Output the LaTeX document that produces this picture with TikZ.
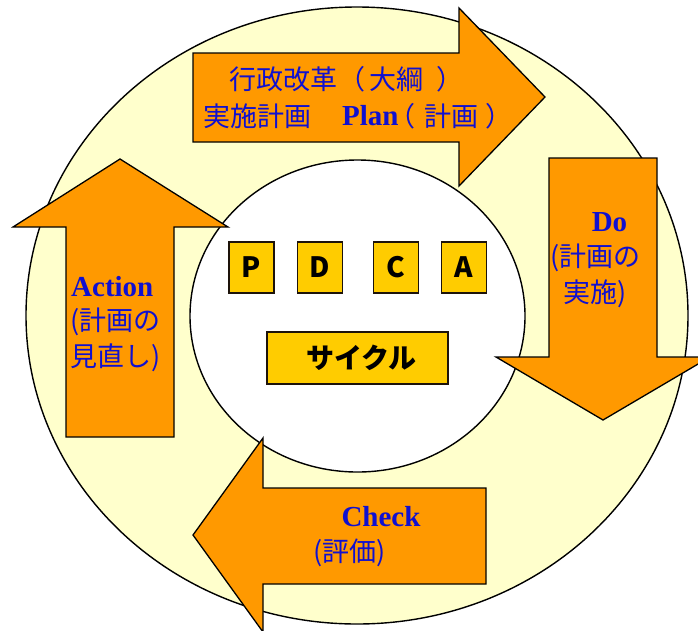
\documentclass[tikz,border=0pt]{standalone}
\usepackage{fontspec}
\newfontfamily\cjk{Noto Sans CJK JP}
\newfontfamily\serifb{Liberation Serif}
\definecolor{ringyellow}{HTML}{FFFFCC}
\definecolor{arroworange}{HTML}{FF9900}
\definecolor{boxyellow}{HTML}{FFCC00}
\definecolor{txtblue}{RGB}{16,16,208}
\tikzset{
  ring/.style={draw=black, line width=1.4pt},
  bigarrow/.style={draw=black, fill=arroworange, line width=1.3pt, line join=miter},
  lbl/.style={inner sep=0pt, text=txtblue, font=\cjk\fontsize{27}{30}\selectfont},
  latinlbl/.style={inner sep=0pt, text=txtblue, font=\serifb\bfseries\fontsize{29}{32}\selectfont},
  letterbox/.style={draw=black!85!brown, fill=boxyellow, line width=1.5pt, minimum width=45pt, minimum height=51pt, inner sep=0pt, font=\cjk\bfseries\fontsize{28}{30}\selectfont},
}
\begin{document}
\begin{tikzpicture}[x=1pt,y=-1pt]
\clip (0,0) rectangle (698,630);
\useasboundingbox (0,0) rectangle (698,630);
% rings
\draw[ring, fill=ringyellow] (357,315.5) ellipse [x radius=331, y radius=308.5];
\draw[ring, fill=white] (357.5,316) ellipse [x radius=167.5, y radius=156];
% arrows
\draw[bigarrow] (193,53)--(459,53)--(459,8)--(545,97)--(459,186)--(459,142)--(193,142)--cycle;
\draw[bigarrow] (549,158)--(657,158)--(657,357)--(710,357)--(603,420)--(496,357)--(549,357)--cycle;
\draw[bigarrow] (486,488)--(263,488)--(263,438)--(193,535)--(263,632)--(263,584)--(486,584)--cycle;
\draw[bigarrow] (66,437)--(66,227)--(13,227)--(120,159)--(228,227)--(174,227)--(174,437)--cycle;
% Plan text
\node[lbl, anchor=west] (plan1a) at (229,79) {行政改革};
\node[lbl, anchor=east] (plan1b) at (366,79) {（};
\node[lbl, anchor=west] (plan1c) at (369,79) {大綱};
\node[lbl, anchor=west] (plan1d) at (436,79) {）};
\node[lbl, anchor=west] (plan2a) at (203,116) {実施計画};
\node[latinlbl, anchor=west] (plan2b) at (342,116) {Plan};
\node[lbl, anchor=east] (plan2c) at (416,116) {（};
\node[lbl, anchor=west] (plan2d) at (424,116) {計画};
\node[lbl, anchor=west] (plan2e) at (485,116) {）};
% Do text
\node[latinlbl] (do1) at (609.5,222) {Do};
\node[lbl] (do2) at (595.5,258) {(計画の};
\node[lbl] (do3) at (595,294) {実施)};
% Action text
\node[latinlbl, anchor=west] (act1) at (71,287) {Action};
\node[lbl, anchor=west] (act2) at (70,322) {(計画の};
\node[lbl, anchor=west] (act3) at (70,358) {見直し)};
% Check text
\node[latinlbl] (chk1) at (381,517) {Check};
\node[lbl] (chk2) at (349.5,553) {(評価)};
% PDCA boxes
\node[letterbox] (p) at (251.5,267.5) {P};
\node[letterbox] (d) at (320,267.5) {D};
\node[letterbox] (c) at (396,267.5) {C};
\node[letterbox] (a) at (464,267.5) {A};
\node[letterbox, minimum width=181pt, minimum height=52pt] (cyc) at (357.5,358) {\hspace{8pt}サイクル};
\end{tikzpicture}
\end{document}
